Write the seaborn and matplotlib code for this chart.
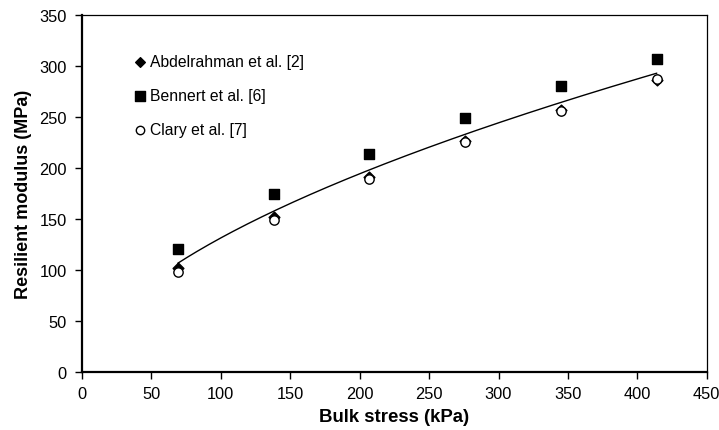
import numpy as np
import pandas as pd
import matplotlib
matplotlib.use("Agg")
import matplotlib.pyplot as plt
import seaborn as sns

bulk_stress = [69, 138, 207, 276, 345, 414]
abdelrahman = [102, 152, 191, 226, 257, 286]
bennert = [121, 174, 214, 249, 280, 307]
clary = [98, 149, 189, 225, 256, 287]
series_names = ["Abdelrahman et al. [2]", "Bennert et al. [6]", "Clary et al. [7]"]
x_ticks = [0, 50, 100, 150, 200, 250, 300, 350, 400, 450]
y_ticks = [0, 50, 100, 150, 200, 250, 300, 350]

sns.set_theme(style="white")
plt.rcParams['font.family'] = ['Liberation Sans', 'DejaVu Sans']
plt.rcParams['text.color'] = 'black'
plt.rcParams['axes.labelcolor'] = 'black'
plt.rcParams['xtick.color'] = 'black'
plt.rcParams['ytick.color'] = 'black'

df = pd.DataFrame({
    "x": bulk_stress * 3,
    "y": abdelrahman + bennert + clary,
    "src": [series_names[0]] * 6 + [series_names[1]] * 6 + [series_names[2]] * 6,
})

fig = plt.figure(figsize=(7.19, 4.31), dpi=100)
ax = fig.add_axes([0.114, 0.1346, 0.869, 0.8284])

# power-law trend line fitted to all data
lx = np.log(np.array(df["x"], float))
ly = np.log(np.array(df["y"], float))
b, a = np.polyfit(lx, ly, 1)
xs = np.linspace(min(bulk_stress), max(bulk_stress), 200)
ys = np.exp(a) * xs ** b
sns.lineplot(x=xs, y=ys, ax=ax, color="black", linewidth=1.0, legend=False, zorder=2)

styles = {
    series_names[0]: dict(marker="D", s=30, facecolor="black", edgecolor="black"),
    series_names[1]: dict(marker="s", s=55, facecolor="black", edgecolor="black"),
    series_names[2]: dict(marker="o", s=45, facecolor="white", edgecolor="black"),
}
for name in series_names:
    sub = df[df["src"] == name]
    st = styles[name]
    sns.scatterplot(data=sub, x="x", y="y", ax=ax, marker=st["marker"], s=st["s"],
                    color=st["facecolor"], edgecolor=st["edgecolor"], linewidth=1.0,
                    label=name, zorder=3)

ax.set_xlim(0, 450)
ax.set_ylim(0, 350)
ax.set_xticks(x_ticks)
ax.set_yticks(y_ticks)
ax.tick_params(axis="both", which="major", labelsize=11.8, direction="out",
               length=5, width=1, color="black", labelcolor="black",
               left=True, bottom=True)
ax.tick_params(axis="x", pad=5)
ax.tick_params(axis="y", pad=6)
for s in ["left", "bottom"]:
    ax.spines[s].set_linewidth(1.6)
for s in ["top", "right"]:
    ax.spines[s].set_linewidth(0.9)
for s in ax.spines.values():
    s.set_color("black")

ax.set_xlabel("Bulk stress (kPa)", fontsize=13.4, fontweight="bold", labelpad=5, color="black")
ax.set_ylabel("Resilient modulus (MPa)", fontsize=13, fontweight="bold", labelpad=5, color="black")

leg = ax.legend(loc="upper left", bbox_to_anchor=(0.083, 0.89), frameon=False,
                fontsize=11.3, handlelength=0.8, handletextpad=0.2, labelspacing=1.2,
                markerscale=0.9, borderaxespad=0, borderpad=0)
for t in leg.get_texts():
    t.set_color("black")

fig.savefig("out.png", dpi=100)
